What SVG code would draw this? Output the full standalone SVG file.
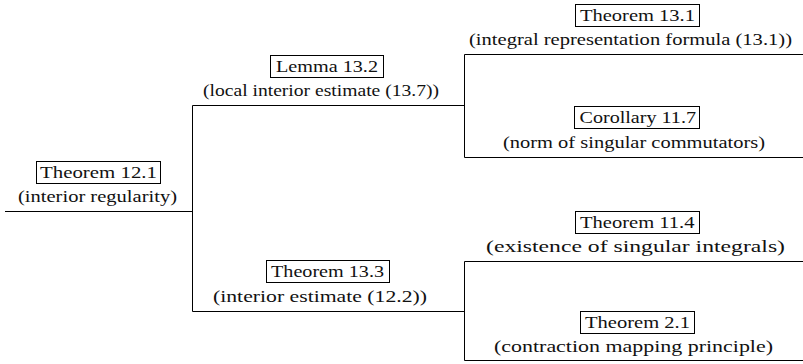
<svg xmlns="http://www.w3.org/2000/svg" width="803" height="364" viewBox="0 0 803 364">
  <style>
    .box { fill: none; stroke: #000; stroke-width: 1; }
    .title, .sub { font-family: "Liberation Serif", "Times New Roman", serif; font-size: 17.5px; fill: #111; }
    .wire { fill: none; stroke: #000; stroke-width: 1; }
  </style>
  <rect width="803" height="364" fill="#fff"/>

  <!-- tree connectors -->
  <g id="connectors">
    <path class="wire" d="M5 211.5 H192.5"/>
    <path class="wire" d="M192.5 105.5 V311.5"/>
    <path class="wire" d="M192.5 105.5 H464.5"/>
    <path class="wire" d="M192.5 311.5 H464.5"/>
    <path class="wire" d="M464.5 54.5 V157.5"/>
    <path class="wire" d="M464.5 261.5 V360.5"/>
    <path class="wire" d="M464.5 54.5 H803"/>
    <path class="wire" d="M464.5 157.5 H803"/>
    <path class="wire" d="M464.5 261.5 H803"/>
    <path class="wire" d="M464.5 360.5 H803"/>
  </g>

  <g id="thm-12-1">
    <rect class="box" x="36.5" y="161.5" width="124" height="22"/>
    <text class="title" x="40" y="178" textLength="117" lengthAdjust="spacingAndGlyphs">Theorem 12.1</text>
    <text class="sub" x="18" y="201.5" textLength="159" lengthAdjust="spacingAndGlyphs">(interior regularity)</text>
  </g>

  <g id="lemma-13-2">
    <rect class="box" x="270.5" y="55.5" width="113" height="22"/>
    <text class="title" x="276" y="72" textLength="102" lengthAdjust="spacingAndGlyphs">Lemma 13.2</text>
    <text class="sub" x="203" y="95.5" textLength="236" lengthAdjust="spacingAndGlyphs">(local interior estimate (13.7))</text>
  </g>

  <g id="thm-13-3">
    <rect class="box" x="266.5" y="260.5" width="123" height="22"/>
    <text class="title" x="271" y="277" textLength="113" lengthAdjust="spacingAndGlyphs">Theorem 13.3</text>
    <text class="sub" x="213" y="301.5" textLength="214" lengthAdjust="spacingAndGlyphs">(interior estimate (12.2))</text>
  </g>

  <g id="thm-13-1">
    <rect class="box" x="575.5" y="4.5" width="124" height="22"/>
    <text class="title" x="580" y="21" textLength="115" lengthAdjust="spacingAndGlyphs">Theorem 13.1</text>
    <text class="sub" x="469" y="44.5" textLength="323" lengthAdjust="spacingAndGlyphs">(integral representation formula (13.1))</text>
  </g>

  <g id="cor-11-7">
    <rect class="box" x="574.5" y="106.5" width="125" height="22"/>
    <text class="title" x="579.5" y="123" textLength="116.5" lengthAdjust="spacingAndGlyphs">Corollary 11.7</text>
    <text class="sub" x="503" y="147.5" textLength="262" lengthAdjust="spacingAndGlyphs">(norm of singular commutators)</text>
  </g>

  <g id="thm-11-4">
    <rect class="box" x="575.5" y="211.5" width="124" height="22"/>
    <text class="title" x="580" y="228" textLength="114.5" lengthAdjust="spacingAndGlyphs">Theorem 11.4</text>
    <text class="sub" x="486" y="251.5" textLength="299" lengthAdjust="spacingAndGlyphs">(existence of singular integrals)</text>
  </g>

  <g id="thm-2-1">
    <rect class="box" x="580.5" y="311.5" width="114" height="22"/>
    <text class="title" x="585" y="328" textLength="105" lengthAdjust="spacingAndGlyphs">Theorem 2.1</text>
    <text class="sub" x="494" y="351.5" textLength="279" lengthAdjust="spacingAndGlyphs">(contraction mapping principle)</text>
  </g>
</svg>
